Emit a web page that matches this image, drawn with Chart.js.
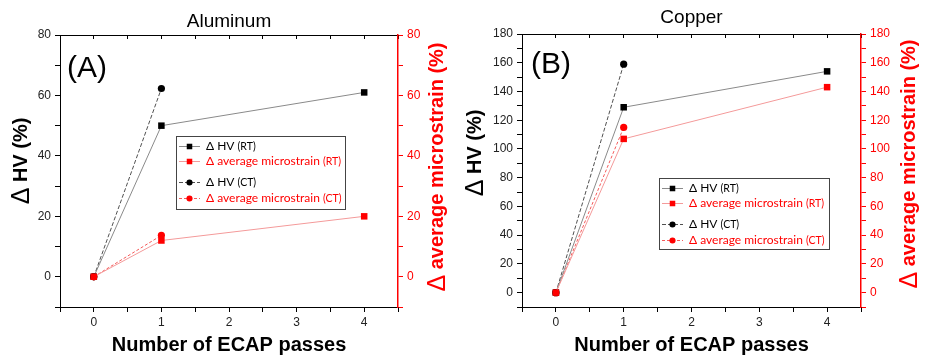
<!DOCTYPE html>
<html>
<head>
<meta charset="utf-8">
<script src="https://cdn.jsdelivr.net/npm/chart.js@4"></script>
<style>
  body { margin: 0; background: #fff; }
  canvas { position: absolute; top: 0; }
</style>
</head>
<body>
<canvas id="alChart" width="462" height="355" style="left:0"></canvas>
<canvas id="cuChart" width="463" height="355" style="left:462px"></canvas>
<script>
// ECAP passes for each series
const PASSES_RT = [0, 1, 4];
const PASSES_CT = [0, 1];
const X_TICKS = [0, 1, 2, 3, 4];

// Aluminum (%)
const AL_HV_RT = [0, 50, 61];
const AL_STRAIN_RT = [0, 12, 20];
const AL_HV_CT = [0, 62.3];
const AL_STRAIN_CT = [0, 13.7];

// Copper (%)
const CU_HV_RT = [0, 129, 154];
const CU_STRAIN_RT = [0, 107, 143];
const CU_HV_CT = [0, 159];
const CU_STRAIN_CT = [0, 115];

const SERIES_LABELS = ['Δ HV (RT)', 'Δ average microstrain (RT)', 'Δ HV (CT)', 'Δ average microstrain (CT)'];
const X_TITLE = 'Number of ECAP passes';
const Y_TITLE = 'Δ HV (%)';
const Y2_TITLE = 'Δ average microstrain (%)';

const FONT = '"Liberation Sans", Arial, sans-serif';
const RED = '#ff0000';

let toPoints = (xs, ys) => xs.map((x, i) => ({x: x, y: ys[i]}));

let getDatasets = (hvRT, strainRT, hvCT, strainCT) => {
  return [
    {
      label: SERIES_LABELS[0], data: toPoints(PASSES_RT, hvRT), yAxisID: 'y', order: 1,
      borderColor: '#8a8a8a', borderWidth: 1, pointStyle: 'rect', pointRadius: 4.6,
      pointBackgroundColor: '#000', pointBorderColor: '#000', pointBorderWidth: 0
    },
    {
      label: SERIES_LABELS[1], data: toPoints(PASSES_RT, strainRT), yAxisID: 'y2', order: 0,
      borderColor: '#f49a9a', borderWidth: 1, pointStyle: 'rect', pointRadius: 4.6,
      pointBackgroundColor: RED, pointBorderColor: RED, pointBorderWidth: 0
    },
    {
      label: SERIES_LABELS[2], data: toPoints(PASSES_CT, hvCT), yAxisID: 'y', order: 3,
      borderColor: '#505050', borderWidth: 1, borderDash: [4, 2], pointStyle: 'circle', pointRadius: 3.6,
      pointBackgroundColor: '#000', pointBorderColor: '#000', pointBorderWidth: 0
    },
    {
      label: SERIES_LABELS[3], data: toPoints(PASSES_CT, strainCT), yAxisID: 'y2', order: 2,
      borderColor: '#f55a5a', borderWidth: 1, borderDash: [3, 2], pointStyle: 'circle', pointRadius: 3.6,
      pointBackgroundColor: RED, pointBorderColor: RED, pointBorderWidth: 0
    }
  ];
}

// draws a rotated axis title; the leading Δ is drawn a bit larger and not bold
let drawRotatedTitle = (ctx, text, cx, cy, color) => {
  let head = text.slice(0, 1);
  let rest = text.slice(1);
  ctx.save();
  ctx.translate(cx, cy);
  ctx.rotate(-Math.PI / 2);
  ctx.fillStyle = color;
  ctx.textBaseline = 'middle';
  ctx.textAlign = 'left';
  ctx.font = '25px ' + FONT;
  let w1 = ctx.measureText(head).width;
  ctx.font = 'bold 20px ' + FONT;
  let w2 = ctx.measureText(rest).width;
  let x = -(w1 + w2) / 2;
  ctx.font = '25px ' + FONT;
  ctx.fillText(head, x, 1);
  ctx.font = 'bold 20px ' + FONT;
  ctx.fillText(rest, x + w1, 0);
  ctx.restore();
}

let drawLegend = (chart, box) => {
  const ctx = chart.ctx;
  const rows = [10, 25, 46, 62];
  ctx.save();
  ctx.fillStyle = '#fff';
  ctx.fillRect(box.x, box.y, box.w, box.h);
  ctx.strokeStyle = '#444';
  ctx.lineWidth = 1;
  ctx.strokeRect(box.x + 0.5, box.y + 0.5, box.w, box.h);

  chart.data.datasets.forEach((ds, i) => {
    let y = box.y + rows[i];
    ctx.save();
    ctx.strokeStyle = ds.borderColor;
    ctx.lineWidth = 1;
    ctx.setLineDash(ds.borderDash || []);
    ctx.beginPath();
    ctx.moveTo(box.x + 3, y + 0.5);
    ctx.lineTo(box.x + 24, y + 0.5);
    ctx.stroke();
    ctx.restore();
    ctx.fillStyle = ds.pointBackgroundColor;
    Chart.helpers.drawPoint(ctx, {pointStyle: ds.pointStyle, radius: ds.pointRadius * 0.85, borderWidth: 0}, box.x + 13.5, y + 0.5);

    let cut = ds.label.lastIndexOf(' (');
    let main = ds.label.slice(0, cut + 1);
    let tail = ds.label.slice(cut + 1);
    ctx.fillStyle = ds.pointBackgroundColor;
    ctx.textBaseline = 'middle';
    ctx.textAlign = 'left';
    ctx.font = '12px Lato, sans-serif';
    ctx.fillText(main, box.x + 30, y);
    let w = ctx.measureText(main).width;
    ctx.font = '10.5px Lato, sans-serif';
    ctx.fillText(tail, box.x + 30 + w, y + 1);
  });
  ctx.restore();
}

const panelDecor = {
  id: 'panelDecor',
  afterDraw(chart, args, opts) {
    const ctx = chart.ctx;
    const area = chart.chartArea;
    const mid = (area.left + area.right) / 2;
    ctx.save();
    ctx.fillStyle = '#000';
    ctx.textBaseline = 'middle';
    ctx.textAlign = 'center';
    ctx.font = '19px ' + FONT;
    ctx.fillText(opts.title, mid, opts.titleY);
    ctx.font = 'bold 20px ' + FONT;
    ctx.fillText(X_TITLE, mid, opts.xTitleY);
    ctx.textAlign = 'left';
    ctx.font = '30px ' + FONT;
    ctx.fillText(opts.letter, opts.letterX, opts.letterY);
    ctx.restore();

    drawRotatedTitle(ctx, Y_TITLE, opts.yTitle[0], opts.yTitle[1], '#000');
    drawRotatedTitle(ctx, Y2_TITLE, opts.y2Title[0], opts.y2Title[1], RED);
    drawLegend(chart, opts.legendBox);
  }
};

let tickFont = {family: FONT, size: 12};

let getScales = (yMax, rightWidth) => {
  let yLabel = (v) => (v % 20 === 0 ? v : '');
  return {
    x: {
      type: 'linear', position: 'bottom', min: -0.5, max: 4.5,
      ticks: {stepSize: 0.5, autoSkip: false, maxRotation: 0, color: '#222', font: tickFont, padding: 3,
        callback: (v) => (X_TICKS.includes(v) ? v : '')},
      grid: {drawOnChartArea: false, tickLength: 5, color: '#000'},
      border: {color: '#000', width: 1},
      afterFit: (s) => { s.height = 48; }
    },
    xTop: {
      type: 'linear', position: 'top', min: -0.5, max: 4.5,
      ticks: {stepSize: 0.5, autoSkip: false, callback: () => ''},
      grid: {drawOnChartArea: false, tickLength: -4, color: '#000'},
      border: {color: '#000', width: 1},
      afterFit: (s) => { s.height = 0; }
    },
    y: {
      position: 'left', min: -10, max: yMax,
      ticks: {stepSize: 10, autoSkip: false, color: '#222', font: tickFont, padding: 4, callback: yLabel},
      grid: {drawOnChartArea: false, tickLength: 5, color: '#000'},
      border: {color: '#000', width: 1},
      afterFit: (s) => { s.width = 60; }
    },
    y2: {
      position: 'right', min: -10, max: yMax,
      ticks: {stepSize: 10, autoSkip: false, color: RED, font: tickFont, padding: 4, callback: yLabel},
      grid: {drawOnChartArea: false, tickLength: 5, color: RED},
      border: {color: RED, width: 1.5},
      afterFit: (s) => { s.width = rightWidth; }
    }
  };
}

let generateChart = (id, datasets, yMax, rightWidth, top, decor) => {
  return new Chart(document.getElementById(id), {
    type: 'line',
    data: {datasets: datasets},
    options: {
      responsive: false,
      animation: false,
      layout: {padding: {top: top, left: 0, right: 0, bottom: 0}},
      scales: getScales(yMax, rightWidth),
      plugins: {
        legend: {display: false},
        tooltip: {enabled: false},
        panelDecor: decor
      }
    },
    plugins: [panelDecor]
  });
}

generateChart('alChart', getDatasets(AL_HV_RT, AL_STRAIN_RT, AL_HV_CT, AL_STRAIN_CT), 80, 64, 35, {
  title: 'Aluminum', titleY: 22, letter: '(A)', letterX: 67, letterY: 69, xTitleY: 345,
  yTitle: [21, 161], y2Title: [437, 167],
  legendBox: {x: 176, y: 136, w: 169, h: 73}
});

generateChart('cuChart', getDatasets(CU_HV_RT, CU_STRAIN_RT, CU_HV_CT, CU_STRAIN_CT), 180, 64, 34, {
  title: 'Copper', titleY: 18, letter: '(B)', letterX: 69, letterY: 65, xTitleY: 345,
  yTitle: [13, 153], y2Title: [447, 164],
  legendBox: {x: 197, y: 178, w: 170, h: 71}
});
</script>
</body>
</html>
